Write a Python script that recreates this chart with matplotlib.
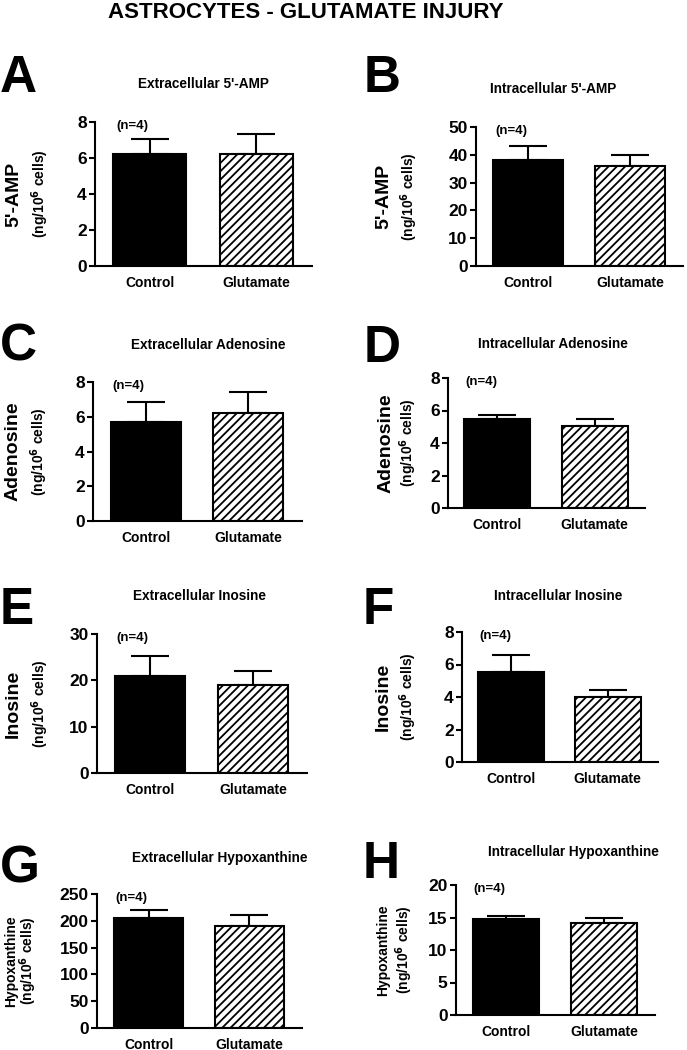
# astrocytes_glutamate.py - 8-panel bar chart, control vs glutamate injury

import matplotlib
import matplotlib.pyplot as plt

matplotlib.use("Agg")

plt.rcParams["font.family"] = ["Liberation Sans", "DejaVu Sans"]
plt.rcParams["hatch.linewidth"] = 1.3

# ── data ─────────────────────────────────────────────────────────────────────
groups = ["Control", "Glutamate"]
letters = ["A", "B", "C", "D", "E", "F", "G", "H"]
titles = [
    "Extracellular 5'-AMP", "Intracellular 5'-AMP",
    "Extracellular Adenosine", "Intracellular Adenosine",
    "Extracellular Inosine", "Intracellular Inosine",
    "Extracellular Hypoxanthine", "Intracellular Hypoxanthine",
]
ylabels = ["5'-AMP", "5'-AMP", "Adenosine", "Adenosine",
           "Inosine", "Inosine", "Hypoxanthine", "Hypoxanthine"]
ymax = [8, 50, 8, 8, 30, 8, 250, 20]
ystep = [2, 10, 2, 2, 10, 2, 50, 5]
control_mean = [6.2, 38.0, 5.7, 5.45, 21.0, 5.55, 205, 14.7]
control_sem = [0.85, 5.0, 1.15, 0.25, 4.2, 1.05, 15, 0.6]
glut_mean = [6.2, 36.0, 6.2, 5.05, 19.0, 4.0, 190, 14.2]
glut_sem = [1.15, 4.0, 1.25, 0.45, 3.0, 0.43, 20, 0.7]

# ── layout (pixel boxes from the reference, 687 x 1050) ─────────────────────
W, H = 687, 1050
# axes: left, top, right, bottom
boxes = [
    (95, 122, 312, 266), (476, 127, 683, 266),
    (93, 382, 302, 521), (448, 378, 645, 508),
    (97, 634, 307, 773), (462, 632, 658, 762),
    (97, 894, 302, 1028), (456, 885, 655, 1015),
]
# panel letter (x, y centre), title (x, y centre)
letter_pos = [(18, 78), (382, 78), (18, 347), (382, 348),
              (17, 610), (378, 610), (20, 869), (381, 865)]
title_pos = [(203, 84), (553, 89), (208, 345), (553, 344),
             (200, 596), (558, 596), (220, 858), (573, 852)]
# y label x positions (big, small)
ylab_x = [(14, 40), (384, 409), (13, 39), (386, 408),
          (13, 40), (383, 408), (11, 28), (383, 404)]

fig = plt.figure(figsize=(W / 100, H / 100), dpi=100)

fig.text(306 / W, 1 - 13 / H, "ASTROCYTES - GLUTAMATE INJURY",
         ha="center", va="center", fontsize=16, fontweight="bold")

for i in range(8):
    x0, yt, x1, yb = boxes[i]
    ax = fig.add_axes([x0 / W, 1 - yb / H, (x1 - x0) / W, (yb - yt) / H])

    ax.bar(0, control_mean[i], width=0.68, color="black",
           edgecolor="black", linewidth=1.5, zorder=2)
    ax.bar(1, glut_mean[i], width=0.68, color="white", hatch="////",
           edgecolor="black", linewidth=1.5, zorder=2)
    ax.errorbar([0, 1], [control_mean[i], glut_mean[i]],
                yerr=[[0, 0], [control_sem[i], glut_sem[i]]],
                fmt="none", ecolor="black", elinewidth=1.5,
                capsize=13.5, capthick=1.5, zorder=1)

    ax.set_xlim(-0.51, 1.52)
    ax.set_ylim(0, ymax[i])
    ax.set_yticks(range(0, ymax[i] + 1, ystep[i]))
    ax.set_xticks([0, 1])
    ax.set_xticklabels(groups, fontsize=10, fontweight="bold")
    ax.tick_params(axis="x", length=0, pad=7)
    ax.tick_params(axis="y", length=4, width=1.5, pad=2, labelsize=12.5)
    for lab in ax.get_yticklabels():
        lab.set_fontweight("bold")

    ax.spines["top"].set_visible(False)
    ax.spines["right"].set_visible(False)
    ax.spines["left"].set_linewidth(1.5)
    ax.spines["bottom"].set_linewidth(1.5)

    ax.text(0.17, 0.97, "(n=4)", transform=ax.transAxes, ha="center",
            va="center", fontsize=9.5, fontweight="bold")

    # panel letter and title
    lx, ly = letter_pos[i]
    fig.text(lx / W, 1 - ly / H, letters[i], ha="center", va="center",
             fontsize=37, fontweight="bold")
    tx, ty = title_pos[i]
    fig.text(tx / W, 1 - ty / H, titles[i], ha="center", va="center",
             fontsize=9.8, fontweight="bold")

    # two-line y label
    yc = 1 - (yt + yb) / 2 / H
    bx, sx = ylab_x[i]
    big = 10 if ylabels[i] == "Hypoxanthine" else 14
    fig.text(bx / W, yc, ylabels[i], rotation=90, ha="center", va="center",
             fontsize=big, fontweight="bold")
    fig.text(sx / W, yc, r"(ng/10$^{\mathbf{6}}$ cells)", rotation=90,
             ha="center", va="center", fontsize=10, fontweight="bold")

plt.savefig("out.png", dpi=100)
